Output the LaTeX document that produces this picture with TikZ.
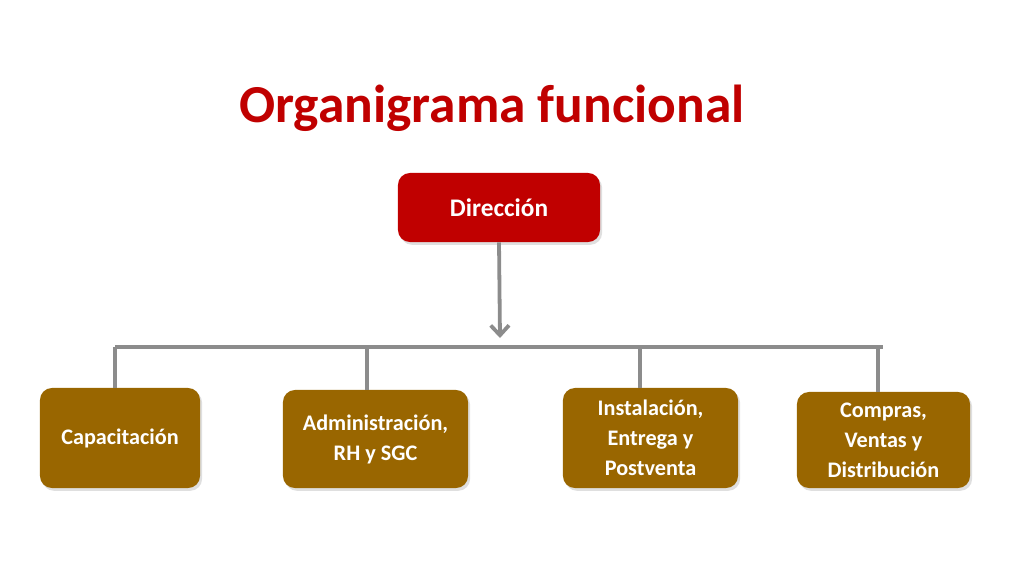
\documentclass[tikz,border=0pt]{standalone}
\usepackage{fontspec}
\setmainfont{Carlito}
\usetikzlibrary{arrows.meta,shadows}
\definecolor{dirred}{HTML}{C00000}
\definecolor{areabrown}{HTML}{996600}
\definecolor{linkgray}{HTML}{8C8C8C}

\begin{document}
\begin{tikzpicture}[x=0.025cm,y=-0.025cm,
    box/.style={rounded corners=0.3cm, text=white, align=center, inner sep=0pt,
      font=\bfseries\fontsize{15.8}{21.3}\selectfont,
      drop shadow={shadow xshift=1.5pt,shadow yshift=-2pt,opacity=0.25}},
    link/.style={draw=linkgray, line width=2.7pt}]
  \useasboundingbox (0,0) rectangle (1024,574);
  % title
  \node[text=dirred, font=\bfseries\fontsize{38}{44}\selectfont] (title) at (492,108) {Organigrama funcional};
  % top box
  \node[box, fill=dirred, minimum width=5.05cm, minimum height=1.725cm,
    font=\bfseries\fontsize{18}{21}\selectfont] (dir) at (499,207.5) {Dirección};
  \coordinate (arrowend) at (500,338);
  \draw[link, -{Straight Barb[length=7pt,width=13pt]}] (dir.south) -- (arrowend);
  % areas
  \foreach \n/\x/\y/\w/\h/\b/\t in {
    cap/120/438/4.0/2.5/115/{Capacitación},
    adm/375.5/439/4.625/2.45/367/{Administración,\\RH y SGC},
    ins/650.5/438/4.375/2.5/640/{Instalación,\\Entrega y\\Postventa},
    com/883.5/440/4.325/2.4/878/{Compras,\\Ventas y\\Distribución}} {
    \node[box, fill=areabrown, minimum width=\w cm, minimum height=\h cm] (\n) at (\x,\y) {\t};
    \coordinate (\n-bus) at (\b,347);
    \draw[link] (\n-bus) -- (\n-bus |- \n.north);
  }
  \coordinate (busend) at (883,347);
  \draw[link] (cap-bus) -- (busend);
\end{tikzpicture}
\end{document}
